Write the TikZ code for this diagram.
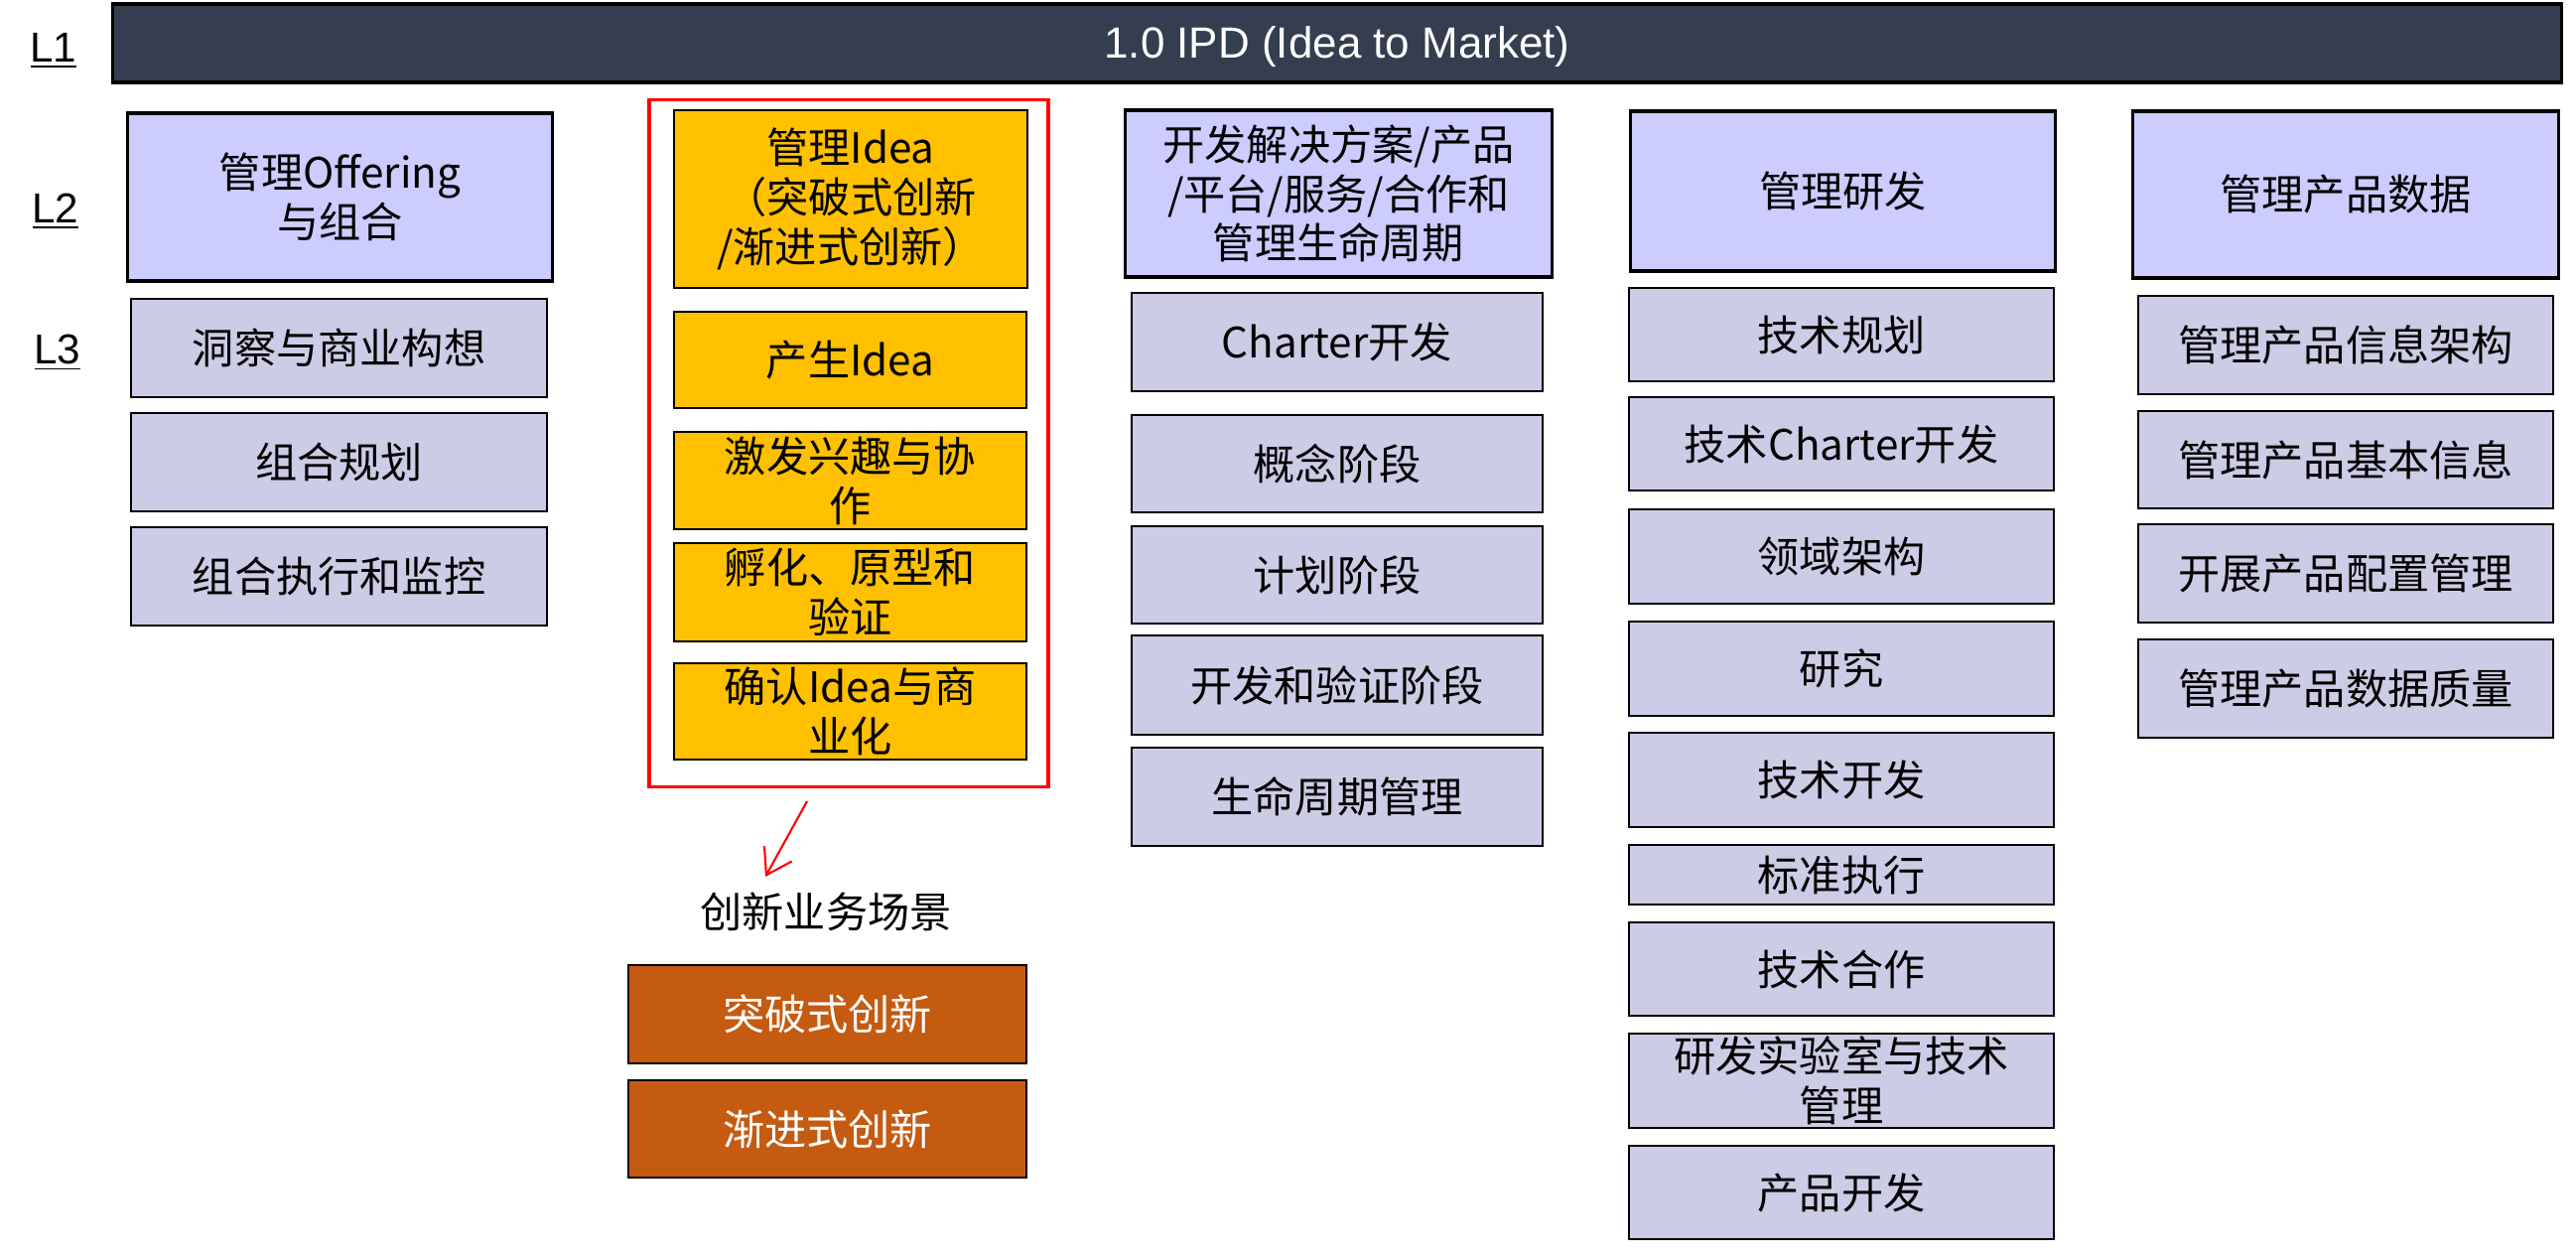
\documentclass[tikz,border=0pt]{standalone}
\usepackage{fontspec}
\setmainfont{Noto Sans CJK SC}
\newfontfamily\latinsans{Liberation Sans}
\usetikzlibrary{arrows.meta}
\definecolor{barcol}{HTML}{343E50}
\definecolor{lavtwo}{HTML}{CCCCFF}
\definecolor{lavthree}{HTML}{CCCCE6}
\definecolor{ideacol}{HTML}{FFC000}
\definecolor{scenecol}{HTML}{C55A11}

\begin{document}
\begin{tikzpicture}[x=0.01cm,y=-0.01cm,
  every node/.style={font=\fontsize{12}{14.2}\selectfont,align=center,inner sep=0pt},
  topbar/.style={draw,line width=0.9pt,fill=barcol,text=white,
    font=\latinsans\fontsize{12.5}{15}\selectfont},
  lvl/.style={font=\latinsans\fontsize{12}{14}\selectfont},
  l2box/.style={draw,line width=0.9pt,fill=lavtwo},
  l3box/.style={draw,line width=0.7pt,fill=lavthree},
  ideabox/.style={draw,line width=0.7pt,fill=ideacol},
  ideaframe/.style={draw=red,line width=0.95pt},
  scenebox/.style={draw,line width=0.7pt,fill=scenecol,text=white}]
  \useasboundingbox (0,0) rectangle (2595,1265);

  % level labels and L1 bar
  \node[lvl] (lone) at (54,51) {\underline{L1}};
  \node[lvl] (ltwo) at (56,213) {\underline{L2}};
  \node[lvl] (lthree) at (58,355) {\underline{L3}};
  \node[topbar,minimum width=24.66cm,minimum height=0.79cm,text depth=0.5pt] (ipd) at (1347,43.5)
    {1.0 IPD (Idea to Market)};

  % offering
  \node[l2box,minimum width=4.27cm,minimum height=1.69cm] (off) at (342.5,198.5)
    {管理Offering\\与组合};
  \node[l3box,minimum width=4.19cm,minimum height=0.99cm] (offA) at (341.5,350.5) {洞察与商业构想};
  \node[l3box,minimum width=4.19cm,minimum height=0.99cm] (offB) at (341.5,465.5) {组合规划};
  \node[l3box,minimum width=4.19cm,minimum height=0.99cm] (offC) at (341.5,580.5) {组合执行和监控};

  % idea
  \node[ideaframe,minimum width=4.02cm,minimum height=6.91cm] (frame) at (855,446.5) {};
  \node[ideabox,minimum width=3.56cm,minimum height=1.79cm] (idea) at (857,200.5)
    {管理Idea\\（突破式创新\\/渐进式创新）};
  \node[ideabox,minimum width=3.55cm,minimum height=0.97cm] (ideaA) at (856.5,362.5) {产生Idea};
  \node[ideabox,minimum width=3.55cm,minimum height=0.98cm] (ideaB) at (856.5,484) {激发兴趣与协\\作};
  \node[ideabox,minimum width=3.55cm,minimum height=0.99cm] (ideaC) at (856.5,596.5) {孵化、原型和\\验证};
  \node[ideabox,minimum width=3.55cm,minimum height=0.97cm] (ideaD) at (856.5,716.5) {确认Idea与商\\业化};
  \coordinate (arrS) at (813,807);
  \coordinate (arrE) at (771,883);
  \draw[red,line width=0.6pt,-{Straight Barb[length=7pt,width=9pt]}] (arrS) -- (arrE);
  \node (scene) at (832,918) {创新业务场景};
  \node[scenebox,minimum width=4.01cm,minimum height=0.99cm] (sceneA) at (833.5,1021.5) {突破式创新};
  \node[scenebox,minimum width=4.01cm,minimum height=0.98cm] (sceneB) at (833.5,1137) {渐进式创新};

  % solutions
  \node[l2box,minimum width=4.29cm,minimum height=1.68cm] (dev) at (1348.5,195)
    {开发解决方案/产品\\/平台/服务/合作和\\管理生命周期};
  \node[l3box,minimum width=4.14cm,minimum height=0.99cm] (devA) at (1347,344.5) {Charter开发};
  \node[l3box,minimum width=4.14cm,minimum height=0.98cm] (devB) at (1347,467) {概念阶段};
  \node[l3box,minimum width=4.14cm,minimum height=0.98cm] (devC) at (1347,579) {计划阶段};
  \node[l3box,minimum width=4.14cm,minimum height=1.00cm] (devD) at (1347,690) {开发和验证阶段};
  \node[l3box,minimum width=4.14cm,minimum height=0.99cm] (devE) at (1347,802.5) {生命周期管理};

  % research
  \node[l2box,minimum width=4.27cm,minimum height=1.61cm] (rnd) at (1856.5,192.5) {管理研发};
  \node[l3box,minimum width=4.28cm,minimum height=0.94cm] (rndA) at (1855,337) {技术规划};
  \node[l3box,minimum width=4.28cm,minimum height=0.94cm] (rndB) at (1855,447) {技术Charter开发};
  \node[l3box,minimum width=4.28cm,minimum height=0.95cm] (rndC) at (1855,560.5) {领域架构};
  \node[l3box,minimum width=4.28cm,minimum height=0.95cm] (rndD) at (1855,673.5) {研究};
  \node[l3box,minimum width=4.28cm,minimum height=0.95cm] (rndE) at (1855,785.5) {技术开发};
  \node[l3box,minimum width=4.28cm,minimum height=0.60cm] (rndF) at (1855,881) {标准执行};
  \node[l3box,minimum width=4.28cm,minimum height=0.94cm] (rndG) at (1855,976) {技术合作};
  \node[l3box,minimum width=4.28cm,minimum height=0.95cm] (rndH) at (1855,1088.5)
    {研发实验室与技术\\管理};
  \node[l3box,minimum width=4.28cm,minimum height=0.94cm] (rndI) at (1855,1201) {产品开发};

  % product data
  \node[l2box,minimum width=4.28cm,minimum height=1.68cm] (pdm) at (2363,196) {管理产品数据};
  \node[l3box,minimum width=4.18cm,minimum height=0.99cm] (pdmA) at (2363,347.5) {管理产品信息架构};
  \node[l3box,minimum width=4.18cm,minimum height=0.98cm] (pdmB) at (2363,463) {管理产品基本信息};
  \node[l3box,minimum width=4.18cm,minimum height=0.99cm] (pdmC) at (2363,577.5) {开展产品配置管理};
  \node[l3box,minimum width=4.18cm,minimum height=0.99cm] (pdmD) at (2363,693.5) {管理产品数据质量};
\end{tikzpicture}
\end{document}
